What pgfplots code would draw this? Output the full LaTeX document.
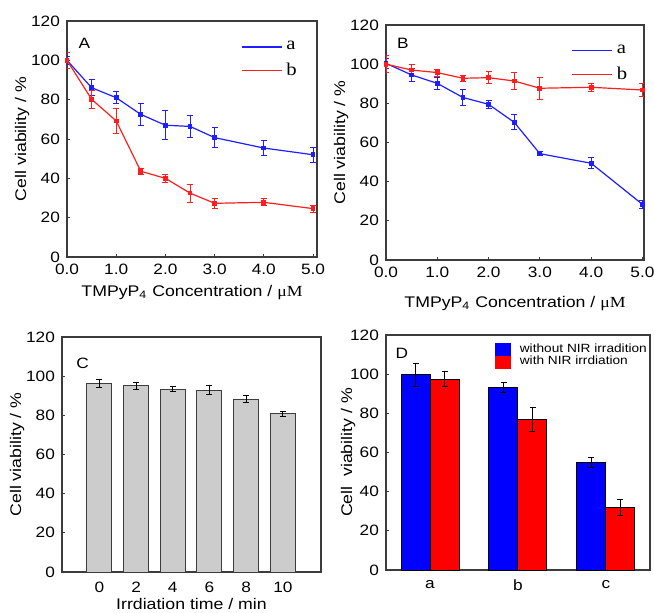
\documentclass[border=0pt]{standalone}
\usepackage{fontspec}
\setmainfont{Liberation Sans}[FakeStretch=1.15]
\newfontfamily\serif{Liberation Serif}[FakeStretch=1.15]
\usepackage{pgfplots}
\pgfplotsset{compat=1.18}

\definecolor{lblue}{RGB}{30,30,255}
\definecolor{lred}{RGB}{255,30,30}
\definecolor{axgray}{RGB}{60,60,60}
\definecolor{barfill}{RGB}{204,204,204}

\pgfplotsset{
  panel/.style={
    scale only axis, anchor=south west,
    ymin=0, ymax=120, ytick={0,20,...,120},
    tick align=inside, tick pos=left, major tick length=1.5pt,
    axis line style={axgray, line width=0.6pt},
    tick style={axgray, line width=0.5pt},
    ticklabel style={font=\fontsize{7.5}{9}\selectfont},
    label style={font=\fontsize{7.7}{9}\selectfont},
    /pgf/number format/assume math mode=true,
    ylabel={Cell viability / \%}, ylabel shift=-6pt,
  },
  conc/.style={
    xmin=0, xtick={0,1,2,3,4,5},
    xticklabel style={/pgf/number format/.cd, fixed, fixed zerofill, precision=1},
    xlabel={TMPyP\textsubscript{4} Concentration / {\serif μM}},
    legend style={draw=none, fill=none, font=\fontsize{9}{10}\selectfont\serif,
      anchor=north east, row sep=1pt},
    legend cell align=left,
    legend image code/.code={\draw[#1] (0pt,0pt) -- (20pt,0pt);},
  },
  curve/.style={
    #1, line width=0.6pt, mark=square*, mark size=0.9pt,
    error bars/.cd, y dir=both, y explicit,
    error bar style={line width=0.5pt},
    error mark options={rotate=90, mark size=1.5pt, line width=0.5pt},
  },
  bars/.style 2 args={
    fill=#1, draw=#2, line width=0.5pt,
    error bars/.cd, y dir=both, y explicit,
    error bar style={black, line width=0.5pt},
    error mark options={rotate=90, mark size=1.5pt, black, line width=0.5pt},
  },
}

\begin{document}
\begin{tikzpicture}
\useasboundingbox (0pt,0pt) rectangle (327pt,306pt);

% A
\begin{axis}[panel, conc, at={(33.5pt,177.5pt)}, width=125pt, height=118pt, xmax=5.08,
    xlabel shift=-1.5pt,
    legend style={at={(rel axis cs:0.96,0.95)}}]
\addplot[curve=lblue] table[y error=e] {
x y e
0 100 2
0.5 86.1 4
1 81 3.2
1.5 72.5 5.8
2 67 7.3
2.5 66.4 5.4
3 60.7 4.9
4 55.4 3.7
5 52 3.9
};
\addlegendentry{a}
\addplot[curve=lred] table[y error=e] {
x y e
0 100 4
0.5 80.2 4.7
1 69.2 6.4
1.5 43.6 1.5
2 40 2
2.5 32.5 4.6
3 27.3 2.5
4 27.8 1.8
5 24.6 1.8
};
\addlegendentry{b}
\node[font=\fontsize{7.5}{9}\selectfont] at (rel axis cs:0.07,0.906) {A};
\end{axis}

% B
\begin{axis}[panel, conc, at={(193pt,176pt)}, width=129pt, height=117.5pt, xmax=5.03,
    xlabel shift=2.5pt,
    legend style={at={(rel axis cs:0.975,0.95)}}]
\addplot[curve=lblue] table[y error=e] {
x y e
0 100.4 2.5
0.5 94.5 3.5
1 90.2 3
1.5 83 4
2 79.5 2
2.5 70.3 3.8
3 54.3 1
4 49.4 2.8
5 28.4 2
};
\addlegendentry{a}
\addplot[curve=lred] table[y error=e] {
x y e
0 100 4.5
0.5 97 3
1 95.7 1.8
1.5 92.8 1.5
2 93.1 3
2.5 91.4 4.5
3 87.7 5.5
4 88.2 2
5 86.8 3.5
};
\addlegendentry{b}
\node[font=\fontsize{7.5}{9}\selectfont] at (rel axis cs:0.065,0.92) {B};
\end{axis}

% C
\begin{axis}[panel, at={(31pt,20pt)}, width=129.5pt, height=117.5pt,
    ybar, bar width=12.5pt, xmin=-1.02, xmax=6.04,
    xtick={0,1,2,3,4,5}, xticklabels={0,2,4,6,8,10}, xtick style={draw=none},
    xlabel={Irrdiation time / min}, xlabel shift=-4pt]
\addplot[bars={barfill}{axgray}] table[y error=e] {
x y e
0 96.2 2
1 95 1.8
2 93.3 1.2
3 92.8 2.3
4 88.3 1.7
5 80.7 1.5
};
\node[font=\fontsize{7.5}{9}\selectfont] at (rel axis cs:0.08,0.89) {C};
\end{axis}

% D
\begin{axis}[panel, at={(193pt,21pt)}, width=132pt, height=117.5pt,
    ybar=0pt, bar width=14.5pt, xmin=-0.5, xmax=2.5,
    xtick={0,1,2}, xticklabels={a,b,c}, xtick style={draw=none},
    ylabel={Cell\ \ viability / \%}, ylabel shift=-9.5pt,
    legend style={draw=none, fill=none, font=\fontsize{5.95}{7}\selectfont,
      at={(rel axis cs:1.02,0.99)}, anchor=north east, row sep=-1.5pt,
      nodes={inner sep=1pt}},
    legend cell align=left]
\addplot[legend image code/.code={\fill[blue] (0pt,-3pt) rectangle (7.5pt,3pt); \path (11pt,0pt);},
    bars={blue}{black}] table[y error=e] {
x y e
0 99.6 6
1 93.1 2.6
2 55 2.6
};
\addlegendentry{without NIR irradition}
\addplot[legend image code/.code={\fill[red] (0pt,-3pt) rectangle (7.5pt,3pt); \path (11pt,0pt);},
    bars={red}{black}] table[y error=e] {
x y e
0 97.5 4
1 76.8 6.1
2 32 4
};
\addlegendentry{with NIR irrdiation}
\node[font=\fontsize{7.5}{9}\selectfont] at (rel axis cs:0.06,0.92) {D};
\end{axis}
\end{tikzpicture}
\end{document}
